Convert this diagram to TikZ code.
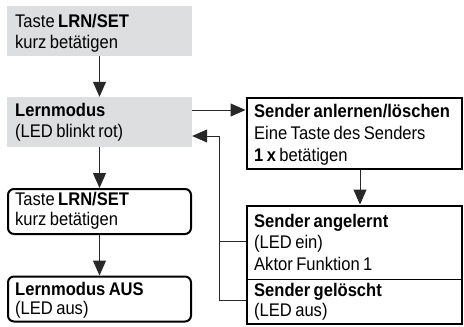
\documentclass[tikz,border=0pt]{standalone}
\usepackage{fontspec}
\setmainfont[FakeStretch=0.905]{Liberation Sans}
\usetikzlibrary{arrows.meta}
\definecolor{boxgrey}{RGB}{221,222,223}
\definecolor{linecol}{RGB}{40,40,40}
\newcommand\mytxtfont{\fontsize{18.3}{20}\selectfont\spaceskip=3.4pt plus 1pt\relax}
\begin{document}
\begin{tikzpicture}[x=1pt,y=-1pt,
  greybox/.style={fill=boxgrey,draw=none,minimum width=185pt,minimum height=50pt,inner sep=0pt},
  roundbox/.style={draw=black,line width=2pt,rounded corners=6pt,minimum width=183pt,minimum height=45pt,inner sep=0pt},
  sqbox/.style={draw=black,line width=2pt,minimum width=215pt,inner sep=0pt},
  txt/.style={anchor=base west,inner sep=0pt,font=\mytxtfont},
  conn/.style={draw=linecol,line width=1pt},
  arr/.style={conn,-{Triangle[width=13pt,length=15pt]}}]
\useasboundingbox (0,0) rectangle (464,327);
% boxes
\node[greybox] (b1) at (99.5,31) {};
\node[greybox] (lern) at (99.5,122) {};
\node[roundbox] (taste) at (99.5,211.5) {};
\node[roundbox] (aus) at (99.5,299) {};
\node[sqbox,minimum height=71pt] (send) at (354,133) {};
\node[sqbox,minimum height=118pt] (res) at (354,264.5) {};
\draw[line width=1pt] (res.west |- 0,279) coordinate (dl) -- (res.east |- 0,279) coordinate (dr);
% texts
\node[txt] at (15,27) {Taste \textbf{LRN/SET}};
\node[txt] at (15,48) {kurz betätigen};
\node[txt] at (15,116) {\textbf{Lernmodus}};
\node[txt] at (15,137) {(LED blinkt rot)};
\node[txt] at (15,205) {Taste \textbf{LRN/SET}};
\node[txt] at (15,225) {kurz betätigen};
\node[txt] at (15,295) {\textbf{Lernmodus AUS}};
\node[txt] at (15,314) {(LED aus)};
\node[txt] at (254,117) {\textbf{Sender anlernen/löschen}};
\node[txt] at (254,139) {Eine Taste des Senders};
\node[txt] at (254,161) {\textbf{1 x} betätigen};
\node[txt] at (254,227) {\textbf{Sender angelernt}};
\node[txt] at (254,248) {(LED ein)};
\node[txt] at (254,270) {Aktor Funktion 1};
\node[txt] at (254,296) {\textbf{Sender gelöscht}};
\node[txt] at (254,316) {(LED aus)};
% connectors
\draw[arr] (b1.south) -- (lern.north);
\draw[arr] (lern.south) -- (taste.north);
\draw[arr] (taste.south) -- (aus.north);
\draw[arr] (lern.east |- 0,110) -- (send.west |- 0,110);
\draw[arr] (send.south -| 360,0) -- (res.north -| 360,0);
\coordinate (k1) at (219,241);
\coordinate (k2) at (219,300);
\coordinate (k3) at (219,136);
\draw[conn] (res.west |- k1) -- (k1);
\draw[conn] (res.west |- k2) -- (k2) -- (k3);
\draw[arr] (k3) -- (lern.east |- k3);
\end{tikzpicture}
\end{document}
